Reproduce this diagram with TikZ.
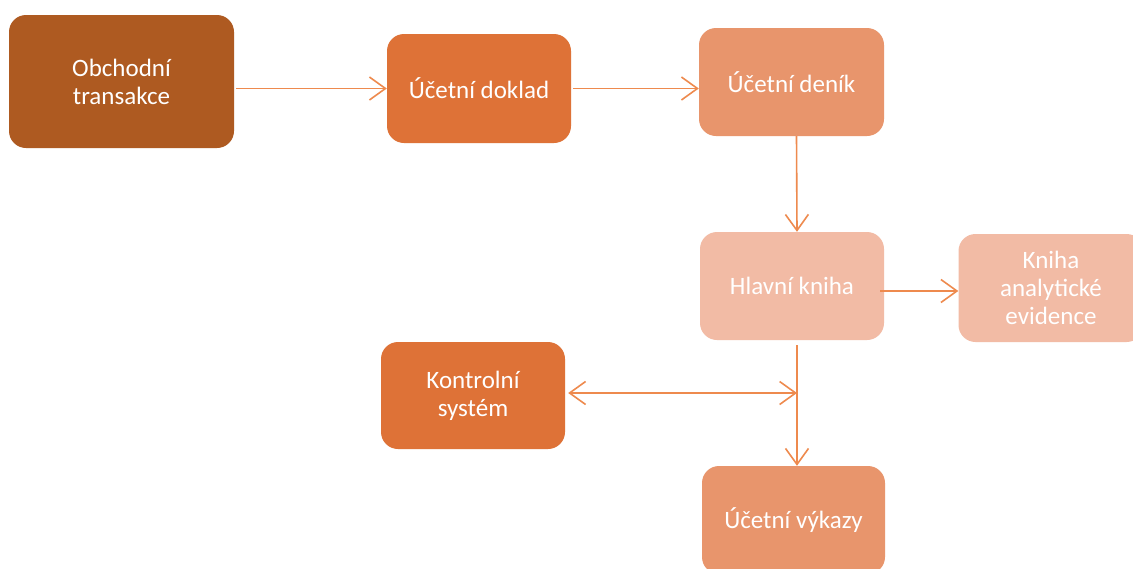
\documentclass[tikz,border=0pt]{standalone}
\usepackage{fontspec}
\setmainfont{Carlito}
\usetikzlibrary{arrows.meta,calc}
\definecolor{cDark}{HTML}{AE5A21}
\definecolor{cMid}{HTML}{DE7237}
\definecolor{cLight}{HTML}{E8956C}
\definecolor{cPale}{HTML}{F2BBA5}
\definecolor{cLine}{HTML}{EE8A4E}
\tikzset{
  box/.style={rounded corners=17pt, draw=none, text=white, align=center,
    font=\fontsize{25}{28}\selectfont, inner sep=0pt},
  barb/.style={Straight Barb[length=16pt,width=23pt,line width=1.6pt]},
  flow/.style={draw=cLine, line width=1.6pt, -{Straight Barb[length=16pt,width=23pt,line width=1.6pt]}},
  flowboth/.style={draw=cLine, line width=1.6pt,
    {Straight Barb[length=16pt,width=23pt,line width=1.6pt]}-{Straight Barb[length=16pt,width=23pt,line width=1.6pt]}}
}
\begin{document}
\begin{tikzpicture}[x=1pt,y=-1pt]
\useasboundingbox (0,0) rectangle (1133,568);
\fill[white] (0,0) rectangle (1133,568);

\node[box, fill=cDark, minimum width=225pt, minimum height=133pt] (tr) at (121.5,81.5) {Obchodní\\transakce};
\node[box, fill=cMid, minimum width=184pt, minimum height=109pt] (dok) at (479,88.5) {Účetní doklad};
\node[box, fill=cLight, minimum width=185pt, minimum height=108pt] (den) at (791.5,82) {Účetní deník};
\node[box, fill=cPale, minimum width=184pt, minimum height=108pt] (hk) at (792,286) {Hlavní kniha};
\node[box, fill=cPale, minimum width=185pt, minimum height=108pt] (ae) at (1051,288) {Kniha\\analytické\\evidence};
\node[box, fill=cMid, minimum width=184pt, minimum height=107pt] (ks) at (473,395.5) {Kontrolní\\systém};
\node[box, fill=cLight, minimum width=183pt, minimum height=108pt] (vyk) at (793.5,520) {Účetní výkazy};

% helper points for the connectors
\coordinate (hkR) at ([xshift=-4pt,yshift=-5pt]hk.east);
\coordinate (hkB) at ([xshift=5pt,yshift=-5pt]hk.south);
\coordinate (ksR) at ([xshift=3pt,yshift=2.5pt]ks.east);
\coordinate (jn) at (hkB |- ksR);

\draw[flow] ([xshift=2pt]tr.east |- dok.west) -- (dok.west);
\draw[flow] ([xshift=2pt]dok.east) -- (den.west |- dok.east);
\draw[flow] ([xshift=5pt]den.south) -- ([xshift=5pt]hk.north);
\draw[flow] (hkR) -- (ae.west |- hkR);
\draw[flow] (hkB) -- (vyk.north -| hkB);
\draw[flowboth] (ksR) -- (jn);
\end{tikzpicture}
\end{document}
